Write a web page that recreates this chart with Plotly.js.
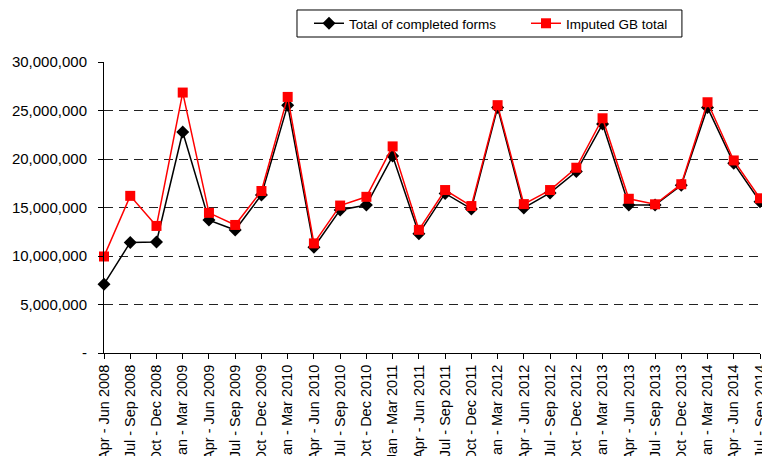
<!DOCTYPE html>
<html>
<head>
<meta charset="utf-8">
<script src="https://cdn.plot.ly/plotly-3.0.1.min.js"></script>
<style>html,body{margin:0;padding:0;background:#fff;}#chart{width:762px;height:456px;}</style>
</head>
<body>
<div id="chart"></div>
<script>
const quarters = [
  "Apr - Jun 2008","Jul - Sep 2008","Oct - Dec 2008","Jan - Mar 2009",
  "Apr - Jun 2009","Jul - Sep 2009","Oct - Dec 2009","Jan - Mar 2010",
  "Apr - Jun 2010","Jul - Sep 2010","Oct - Dec 2010","Jan - Mar 2011",
  "Apr - Jun 2011","Jul - Sep 2011","Oct - Dec 2011","Jan - Mar 2012",
  "Apr - Jun 2012","Jul - Sep 2012","Oct - Dec 2012","Jan - Mar 2013",
  "Apr - Jun 2013","Jul - Sep 2013","Oct - Dec 2013","Jan - Mar 2014",
  "Apr - Jun 2014","Jul - Sep 2014"
];
const completedForms = [
  7100000, 11400000, 11450000, 22780000,
  13700000, 12680000, 16300000, 25550000,
  10900000, 14750000, 15250000, 20300000,
  12300000, 16450000, 14850000, 25300000,
  14950000, 16500000, 18700000, 23600000,
  15250000, 15250000, 17300000, 25300000,
  19550000, 15600000
];
const imputedGB = [
  9950000, 16200000, 13100000, 26850000,
  14450000, 13200000, 16700000, 26400000,
  11300000, 15200000, 16100000, 21300000,
  12700000, 16800000, 15150000, 25550000,
  15350000, 16800000, 19100000, 24200000,
  15900000, 15330000, 17400000, 25850000,
  19850000, 15950000
];
const yTickVals = [0, 5000000, 10000000, 15000000, 20000000, 25000000, 30000000];
const yTickText = ["-", "5,000,000", "10,000,000", "15,000,000", "20,000,000", "25,000,000", "30,000,000"];

const traces = [
  {
    x: quarters, y: completedForms, name: "Total of completed forms",
    type: "scatter", mode: "lines+markers", cliponaxis: false,
    line: {color: "#000000", width: 1.5},
    marker: {symbol: "diamond", size: 10, color: "#000000"}
  },
  {
    x: quarters, y: imputedGB, name: "Imputed GB total",
    type: "scatter", mode: "lines+markers", cliponaxis: false,
    line: {color: "#ff0000", width: 1.5},
    marker: {symbol: "square", size: 10, color: "#ff0000"}
  }
];

const layout = {
  width: 762, height: 456,
  margin: {l: 104, r: 2, t: 62, b: 103},
  paper_bgcolor: "#ffffff", plot_bgcolor: "#ffffff",
  font: {family: "Liberation Sans, Arial, sans-serif", size: 12, color: "#000000"},
  showlegend: true,
  legend: {
    orientation: "h", x: 0.3125, xanchor: "left", y: 1.1323, yanchor: "middle",
    borderwidth: 0, bgcolor: "rgba(0,0,0,0)",
    font: {size: 13.5, color: "#000000"},
    entrywidth: 172, entrywidthmode: "pixels"
  },
  shapes: [{
    type: "rect", xref: "paper", yref: "paper",
    x0: 0.2942, x1: 0.881, y0: 1.0859, y1: 1.1787,
    line: {color: "#000000", width: 1}, fillcolor: "rgba(0,0,0,0)", layer: "below"
  }],
  xaxis: {
    type: "category", range: [0, 25],
    showline: true, linecolor: "#000000", linewidth: 1,
    ticks: "outside", ticklen: 5, tickcolor: "#000000",
    tickangle: -90, tickfont: {size: 14.5},
    showgrid: false, zeroline: false
  },
  yaxis: {
    range: [0, 30000000],
    tickvals: yTickVals, ticktext: yTickText,
    showline: true, linecolor: "#000000", linewidth: 1,
    ticks: "outside", ticklen: 5, tickcolor: "#000000",
    tickfont: {size: 15}, ticklabelstandoff: 8,
    showgrid: true, gridcolor: "#222222", gridwidth: 1, griddash: "9px,6px",
    zeroline: false
  }
};

Plotly.newPlot("chart", traces, layout, {displayModeBar: false, staticPlot: true});
</script>
</body>
</html>
